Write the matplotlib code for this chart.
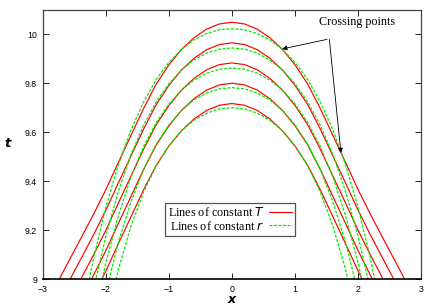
import matplotlib
matplotlib.use("Agg")
import matplotlib.pyplot as plt
import numpy as np

# half grid in x (curves are symmetric about x = 0)
x_half = [0.0, 0.2, 0.4, 0.6, 0.8, 1.0, 1.2, 1.4, 1.6, 1.8, 2.0, 2.2, 2.4, 2.6, 2.8]

# lines of constant T (red), t values
T1 = [10.049, 10.042, 10.021, 9.986, 9.938, 9.875, 9.797, 9.697, 9.587, 9.477, 9.365, 9.262, 9.164, 9.067, 8.969]
T2 = [9.965, 9.958, 9.937, 9.902, 9.854, 9.791, 9.713, 9.613, 9.503, 9.393, 9.281, 9.178, 9.080, 8.983]
T3 = [9.883, 9.876, 9.855, 9.820, 9.772, 9.709, 9.631, 9.531, 9.421, 9.311, 9.199, 9.096, 8.998]
T4 = [9.800, 9.793, 9.772, 9.737, 9.689, 9.626, 9.548, 9.448, 9.338, 9.228, 9.116, 9.013, 8.915]
T5 = [9.717, 9.710, 9.689, 9.654, 9.606, 9.543, 9.465, 9.365, 9.255, 9.145, 9.033, 8.930]

# lines of constant r (green)
r1 = [10.023, 10.018, 10.003, 9.977, 9.938, 9.885, 9.815, 9.724, 9.610, 9.468, 9.293, 9.079, 8.821]
r2 = [9.944, 9.939, 9.923, 9.895, 9.854, 9.798, 9.724, 9.629, 9.509, 9.359, 9.175, 8.951]
r3 = [9.862, 9.857, 9.841, 9.813, 9.772, 9.715, 9.640, 9.542, 9.417, 9.260, 9.066, 8.829]
r4 = [9.782, 9.777, 9.760, 9.732, 9.689, 9.630, 9.551, 9.448, 9.316, 9.151, 8.944]
r5 = [9.700, 9.695, 9.678, 9.649, 9.606, 9.545, 9.463, 9.356, 9.217, 9.040, 8.819]

T_lines = [T1, T2, T3, T4, T5]
r_lines = [r1, r2, r3, r4, r5]

xticks = [-3, -2, -1, 0, 1, 2, 3]
yticks = [9, 9.2, 9.4, 9.6, 9.8, 10]
ytick_labels = ["9", "9.2", "9.4", "9.6", "9.8", "10"]


def full(t):
    # mirror the half curve to both sides of x = 0
    xs = np.array(x_half[:len(t)])
    ts = np.array(t)
    return np.concatenate([-xs[::-1], xs[1:]]), np.concatenate([ts[::-1], ts[1:]])


plt.rcParams['font.family'] = ['Liberation Sans', 'DejaVu Sans']
plt.rcParams['mathtext.fontset'] = 'dejavusans'

fig = plt.figure(figsize=(4.36, 3.05), dpi=100)
ax = fig.add_axes([0.098, 0.085, 0.868, 0.883])

red = '#ff0000'
green = '#00ee00'
for i, t in enumerate(T_lines):
    xs, ts = full(t)
    ax.plot(xs, ts, color=red, lw=0.85, label='Lines of constant $T$' if i == 0 else None)
for i, t in enumerate(r_lines):
    xs, ts = full(t)
    ax.plot(xs, ts, color=green, lw=0.9, dashes=(2.4, 1.2),
            label='Lines of constant $r$' if i == 0 else None)

ax.set_xlim(-3, 3)
ax.set_ylim(9, 10.1)
ax.set_xticks(xticks)
ax.set_yticks(yticks)
ax.set_yticklabels(ytick_labels)
ax.tick_params(direction='in', length=4, width=0.6, labelsize=6.3, pad=4,
               top=True, right=True)

for s in ax.spines.values():
    s.set_color('#444444')
    s.set_linewidth(0.9)
ax.spines['bottom'].set_color('black')
ax.spines['bottom'].set_linewidth(1.2)

fig.text(0.532, 0.008, 'x', fontsize=9, fontstyle='italic', fontweight='bold',
         ha='center', va='baseline', family='DejaVu Sans')
fig.text(0.018, 0.528, 't', fontsize=9.5, fontstyle='italic', fontweight='bold',
         ha='center', va='center', family='DejaVu Sans')

leg = ax.legend(loc='center', bbox_to_anchor=(0.4945, 0.2215), markerfirst=False,
                fancybox=False, edgecolor='#555555', framealpha=1,
                prop={'family': 'Liberation Serif', 'size': 8.7},
                handlelength=1.9, handletextpad=0.4, borderpad=0.25,
                labelspacing=0.05, borderaxespad=0)
leg.get_frame().set_linewidth(0.9)

ax.text(1.98, 10.049, 'Crossing points', family='Liberation Serif', fontsize=8.7,
        ha='center', va='center')
arrow = dict(arrowstyle='-|>', color='black', lw=0.6, mutation_scale=7,
             shrinkA=0, shrinkB=0)
ax.annotate('', xy=(0.796, 9.940), xytext=(1.507, 9.979), arrowprops=arrow)
ax.annotate('', xy=(1.728, 9.515), xytext=(1.544, 9.979), arrowprops=arrow)

fig.savefig('out.png', dpi=100)
